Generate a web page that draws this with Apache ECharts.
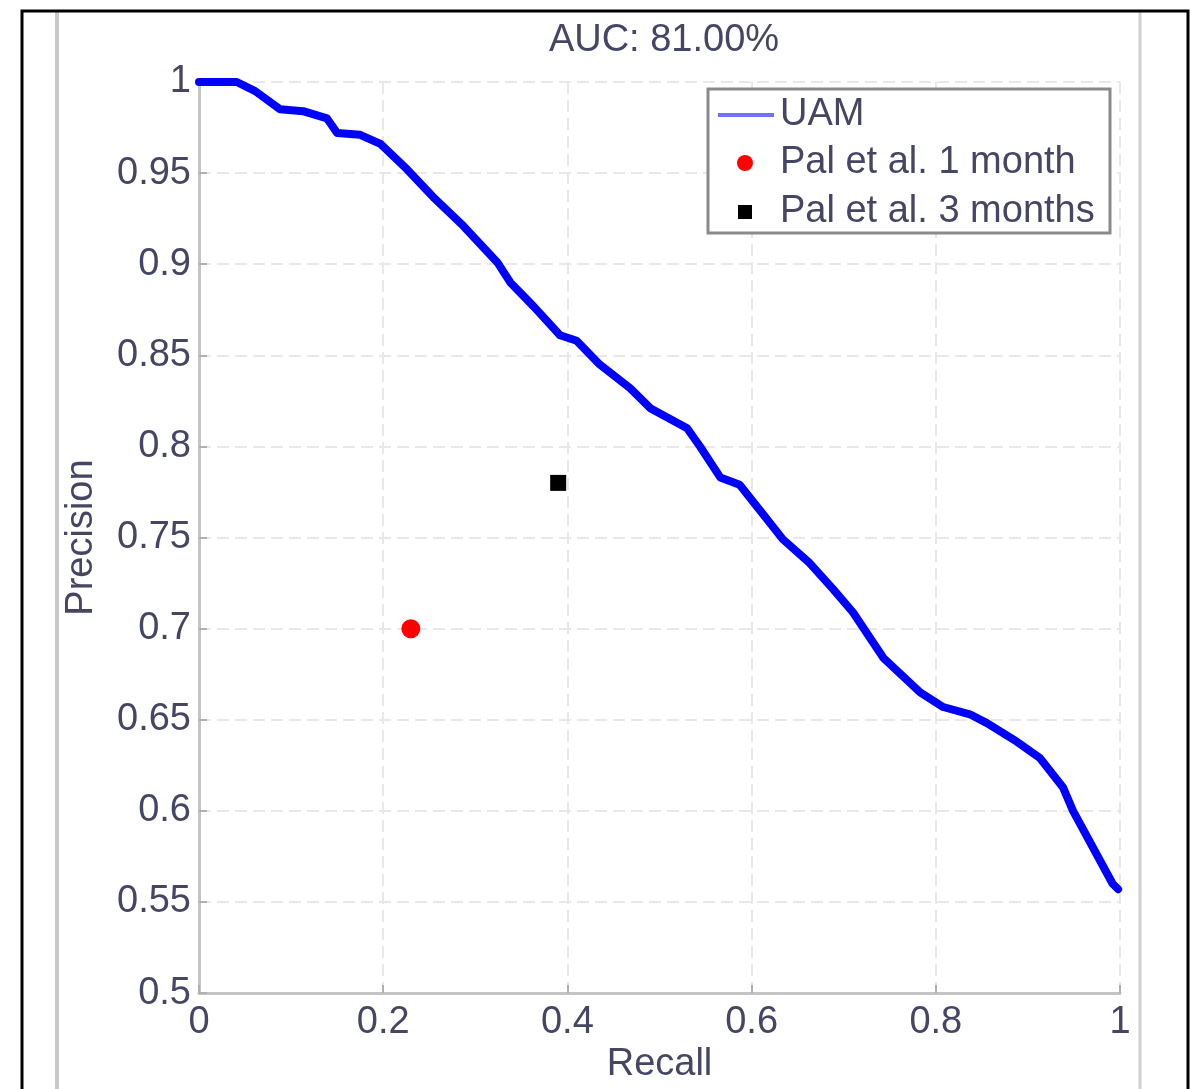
<!DOCTYPE html>
<html>
<head>
<meta charset="utf-8">
<title>Precision-Recall</title>
<script src="https://cdn.jsdelivr.net/npm/echarts@6/dist/echarts.min.js"></script>
<style>
  html, body { margin: 0; padding: 0; background: #ffffff; }
  #chart { width: 1198px; height: 1089px; }
</style>
</head>
<body>
<div id="chart"></div>
<script>
// Precision-recall curve of the UAM model (recall on x, precision on y)
const recall = [
  0.000, 0.041, 0.061, 0.088, 0.113, 0.139, 0.150, 0.175, 0.197, 0.226,
  0.254, 0.287, 0.324, 0.338, 0.363, 0.392, 0.410, 0.435, 0.468, 0.490,
  0.530, 0.544, 0.566, 0.587, 0.609, 0.634, 0.663, 0.688, 0.710, 0.743,
  0.783, 0.808, 0.837, 0.856, 0.888, 0.913, 0.938, 0.949, 0.992, 0.998
];
const precision = [
  1.000, 1.000, 0.995, 0.985, 0.984, 0.980, 0.972, 0.971, 0.966, 0.952,
  0.937, 0.921, 0.901, 0.890, 0.877, 0.861, 0.858, 0.845, 0.832, 0.821,
  0.810, 0.800, 0.783, 0.779, 0.765, 0.749, 0.736, 0.722, 0.709, 0.684,
  0.665, 0.657, 0.653, 0.648, 0.638, 0.629, 0.613, 0.600, 0.560, 0.557
];

// Reference operating points (recall, precision)
const pal1Month = [[0.23, 0.70]];
const pal3Months = [[0.39, 0.78]];

// Axis ticks
const xTicks = [0, 0.2, 0.4, 0.6, 0.8, 1];
const yTicks = [0.5, 0.55, 0.6, 0.65, 0.7, 0.75, 0.8, 0.85, 0.9, 0.95, 1];

const titleText = 'AUC: 81.00%';
const seriesNames = ['UAM', 'Pal et al. 1 month', 'Pal et al. 3 months'];

const FONT = '"Liberation Sans", Arial, Helvetica, sans-serif';
const TEXT_COLOR = '#464664';
const FS = 38;

const curve = recall.map((r, i) => [r, precision[i]]);

const chart = echarts.init(document.getElementById('chart'), null, { renderer: 'canvas' });

const gridLine = { show: true, lineStyle: { color: '#e8e8e8', width: 2, type: [12, 6] } };
const axisLine = { show: true, lineStyle: { color: '#c4c4c4', width: 3 } };
const axisTick = { show: true, inside: true, length: 8, lineStyle: { color: '#b0b0b0', width: 2 } };
const labelStyle = { color: TEXT_COLOR, fontSize: FS, fontFamily: FONT };

// Legend box drawn in the upper right of the plot
const legendX = 708, legendY = 89, legendW = 402, legendH = 144;
const rowY = [115, 163, 212];

const option = {
  backgroundColor: '#ffffff',
  animation: false,
  title: {
    text: titleText,
    left: 659,
    top: 17,
    textAlign: 'center',
    textStyle: { color: TEXT_COLOR, fontSize: FS, fontWeight: 'normal', fontFamily: FONT }
  },
  grid: { left: 199, right: 78, top: 82, bottom: 89, containLabel: false },
  xAxis: {
    type: 'value',
    min: xTicks[0],
    max: xTicks[xTicks.length - 1],
    interval: xTicks[1] - xTicks[0],
    name: 'Recall',
    nameLocation: 'middle',
    nameGap: 52,
    nameTextStyle: { color: TEXT_COLOR, fontSize: FS, fontFamily: FONT },
    axisLine: axisLine,
    axisTick: axisTick,
    axisLabel: Object.assign({ margin: 10 }, labelStyle),
    splitLine: gridLine
  },
  yAxis: {
    type: 'value',
    min: yTicks[0],
    max: yTicks[yTicks.length - 1],
    interval: 0.05,
    name: 'Precision',
    nameLocation: 'middle',
    nameGap: 98,
    nameTextStyle: { color: TEXT_COLOR, fontSize: FS, fontFamily: FONT },
    axisLine: axisLine,
    axisTick: axisTick,
    axisLabel: Object.assign({ margin: 8 }, labelStyle),
    splitLine: gridLine
  },
  series: [
    {
      name: seriesNames[0],
      type: 'line',
      data: curve,
      showSymbol: false,
      symbol: 'none',
      lineStyle: { color: '#0000ff', width: 8, join: 'round', cap: 'round' },
      z: 3
    },
    {
      name: seriesNames[1],
      type: 'scatter',
      data: pal1Month,
      symbol: 'circle',
      symbolSize: 19,
      itemStyle: { color: '#ff0000', opacity: 1 },
      z: 4
    },
    {
      name: seriesNames[2],
      type: 'scatter',
      data: pal3Months,
      symbol: 'rect',
      symbolSize: 16,
      itemStyle: { color: '#000000', opacity: 1 },
      z: 4
    }
  ],
  graphic: [
    // outer frame
    { type: 'rect', silent: true, z: 10,
      shape: { x: 22, y: 11, width: 1166, height: 1120 },
      style: { fill: 'none', stroke: '#000000', lineWidth: 3 } },
    { type: 'line', silent: true, z: 1,
      shape: { x1: 57, y1: 12, x2: 57, y2: 1089 },
      style: { stroke: '#c8c8c8', lineWidth: 4 } },
    { type: 'line', silent: true, z: 1,
      shape: { x1: 1140, y1: 12, x2: 1140, y2: 1089 },
      style: { stroke: '#d0d0d0', lineWidth: 3 } },
    // legend
    { type: 'rect', silent: true, z: 20,
      shape: { x: legendX, y: legendY, width: legendW, height: legendH },
      style: { fill: '#ffffff', stroke: '#8a8a8a', lineWidth: 3 } },
    { type: 'line', silent: true, z: 21,
      shape: { x1: 718, y1: rowY[0], x2: 774, y2: rowY[0] },
      style: { stroke: '#7070ff', lineWidth: 4 } },
    { type: 'circle', silent: true, z: 21,
      shape: { cx: 745, cy: rowY[1], r: 8 },
      style: { fill: '#ff0000' } },
    { type: 'rect', silent: true, z: 21,
      shape: { x: 738, y: rowY[2] - 7, width: 14, height: 14 },
      style: { fill: '#000000' } },
    { type: 'text', silent: true, z: 22, x: 780, y: rowY[0],
      style: { text: seriesNames[0], fill: TEXT_COLOR, font: FS + 'px ' + FONT, verticalAlign: 'middle' } },
    { type: 'text', silent: true, z: 22, x: 780, y: rowY[1],
      style: { text: seriesNames[1], fill: TEXT_COLOR, font: FS + 'px ' + FONT, verticalAlign: 'middle' } },
    { type: 'text', silent: true, z: 22, x: 780, y: rowY[2],
      style: { text: seriesNames[2], fill: TEXT_COLOR, font: FS + 'px ' + FONT, verticalAlign: 'middle' } }
  ]
};

chart.setOption(option);
</script>
</body>
</html>
